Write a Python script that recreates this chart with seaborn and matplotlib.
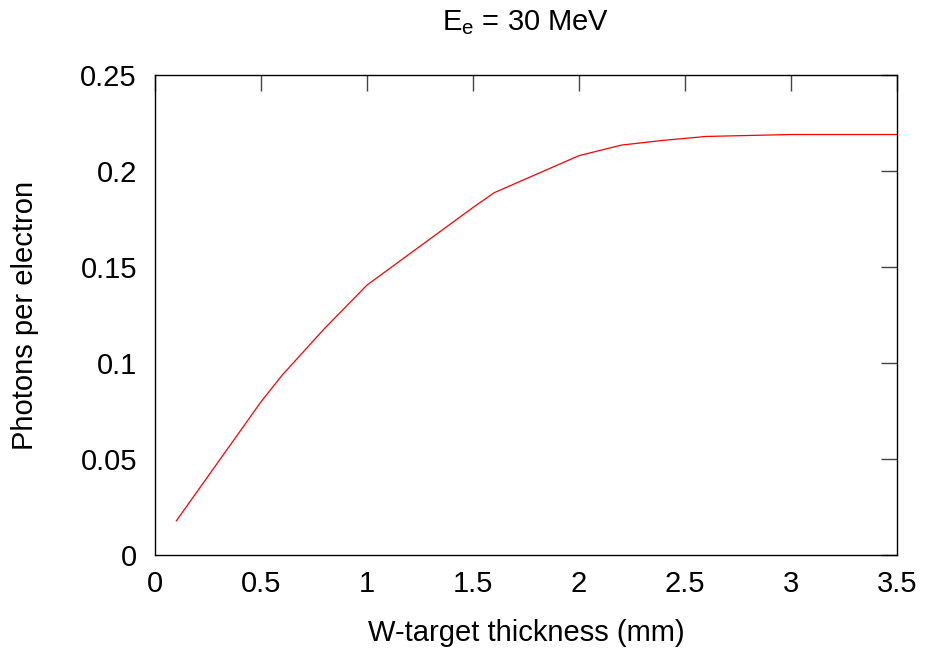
import matplotlib
matplotlib.use("Agg")
import matplotlib.pyplot as plt
import seaborn as sns
import pandas as pd

# values
thickness_mm = [0.1, 0.5, 0.6, 0.8, 1.0, 1.5, 1.6, 2.0, 2.2, 2.4, 2.6, 3.0, 3.5]
photons_per_e = [0.0177, 0.0798, 0.0937, 0.118, 0.1406, 0.181, 0.1887, 0.208,
                 0.2135, 0.216, 0.218, 0.219, 0.219]
x_ticks = [0, 0.5, 1, 1.5, 2, 2.5, 3, 3.5]
x_tick_labels = ["0", "0.5", "1", "1.5", "2", "2.5", "3", "3.5"]
y_ticks = [0, 0.05, 0.1, 0.15, 0.2, 0.25]
y_tick_labels = ["0", "0.05", "0.1", "0.15", "0.2", "0.25"]

df = pd.DataFrame({"thickness": thickness_mm, "photons": photons_per_e})

sns.set_style("white")
plt.rcParams["font.family"] = ["Liberation Sans", "DejaVu Sans"]
plt.rcParams["text.color"] = "black"
plt.rcParams["axes.labelcolor"] = "black"
fs = 21

fig = plt.figure(figsize=(9.25, 6.56), dpi=100)
ax = fig.add_axes([155 / 925, 1 - 555 / 656, (897 - 155) / 925, (555 - 75) / 656])

sns.lineplot(data=df, x="thickness", y="photons", color="red", linewidth=0.9, ax=ax)

ax.set_xlim(0, 3.5)
ax.set_ylim(0, 0.25)
ax.set_xticks(x_ticks)
ax.set_xticklabels(x_tick_labels)
ax.set_yticks(y_ticks)
ax.set_yticklabels(y_tick_labels)
ax.tick_params(direction="in", length=11.5, width=1, colors="#444444",
               labelcolor="black", labelsize=fs, top=True, right=True)
ax.tick_params(axis="y", pad=13)
ax.tick_params(axis="x", pad=11)
for s in ax.spines.values():
    s.set_color("black")
    s.set_linewidth(1)

ax.set_xlabel("W-target thickness (mm)", fontsize=fs)
ax.set_ylabel("Photons per electron", fontsize=fs)
ax.xaxis.set_label_coords(0.5, -(633 - 555) / 480, transform=ax.transAxes)
ax.yaxis.set_label_coords(-(155 - 25) / 742, 0.5, transform=ax.transAxes)
ax.xaxis.label.set_va("center")
ax.yaxis.label.set_va("center")
ax.set_title("E$_\\mathregular{e}$ = 30 MeV", fontsize=fs, color="black",
             y=1 + (75 - 31) / 480, va="center")

fig.savefig("out.png", dpi=100)
